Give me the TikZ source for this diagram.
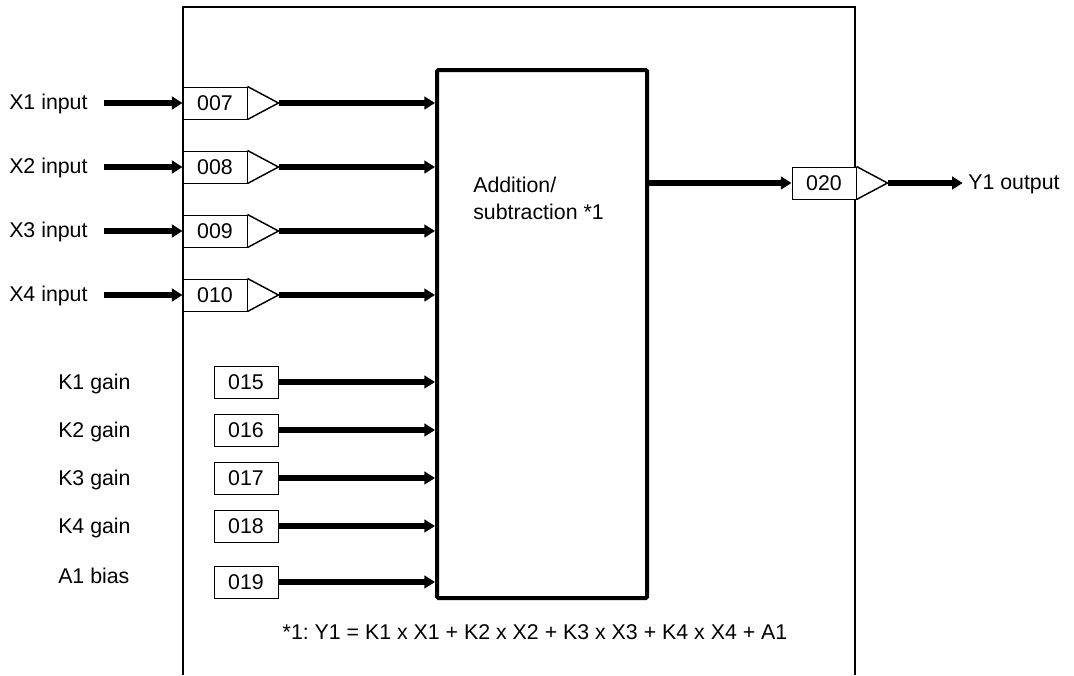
\documentclass[tikz,border=0pt]{standalone}
\usepackage{fontspec}
\setmainfont{Liberation Sans}
\usepackage{tikz}
\usetikzlibrary{arrows.meta, positioning, calc}
\frenchspacing
\tikzset{
  lbl/.style={font=\fontsize{16}{20.25}\selectfont, inner sep=0pt, align=left},
  regbox/.style={
    draw, line width=0.75pt, minimum width=48pt, minimum height=24pt,
    inner sep=0pt, font=\fontsize{16}{20}\selectfont, fill=white
  },
  calcblock/.style={draw, line width=3pt, rounded corners=1pt, inner sep=0pt},
  frameline/.style={line width=1.5pt},
  amp/.style={line width=1.1pt, line join=miter},
  sig/.style={-{Triangle[length=8pt,width=9.5pt]}, line width=4pt},
}
\begin{document}
\begin{tikzpicture}[x=0.75pt, y=-0.75pt]
  \useasboundingbox (0,0) rectangle (1074,675);
  % outer module frame, open at the bottom
  \draw[frameline] (183,675) -- (183,7) -- (855,7) -- (855,675);
  \node[calcblock, minimum width=157.5pt, minimum height=396pt] (blk) at (542,334) {};
  \node[lbl, anchor=west] (optxt) at (473,198) {Addition/\\subtraction *1};
  % inputs
  \node[lbl, anchor=west] (x1) at (9,104) {X1 input};
  \node[lbl, anchor=west] (x2) at (9,168) {X2 input};
  \node[lbl, anchor=west] (x3) at (9,232) {X3 input};
  \node[lbl, anchor=west] (x4) at (9,296) {X4 input};
  \node[regbox] (r007) at (215,103) {007};
  \node[regbox] (r008) at (215,167) {008};
  \node[regbox] (r009) at (215,231) {009};
  \node[regbox] (r010) at (215,295) {010};
  \draw[amp] (r007.north east) -- ++(31,16.5) coordinate (a007) -- (r007.south east);
  \draw[amp] (r008.north east) -- ++(31,16.5) coordinate (a008) -- (r008.south east);
  \draw[amp] (r009.north east) -- ++(31,16.5) coordinate (a009) -- (r009.south east);
  \draw[amp] (r010.north east) -- ++(31,16.5) coordinate (a010) -- (r010.south east);
  \draw[sig] ([xshift=12pt]x1.east |- r007.west) -- (r007.west);
  \draw[sig] ([xshift=12pt]x2.east |- r008.west) -- (r008.west);
  \draw[sig] ([xshift=12pt]x3.east |- r009.west) -- (r009.west);
  \draw[sig] ([xshift=12pt]x4.east |- r010.west) -- (r010.west);
  \draw[sig] (a007) -- (a007 -| blk.west);
  \draw[sig] (a008) -- (a008 -| blk.west);
  \draw[sig] (a009) -- (a009 -| blk.west);
  \draw[sig] (a010) -- (a010 -| blk.west);
  % gains and bias
  \node[lbl, anchor=west] (k1) at (58,384) {K1 gain};
  \node[lbl, anchor=west] (k2) at (58,432) {K2 gain};
  \node[lbl, anchor=west] (k3) at (58,480) {K3 gain};
  \node[lbl, anchor=west] (k4) at (58,528) {K4 gain};
  \node[lbl, anchor=west] (a1) at (58,576) {A1 bias};
  \node[regbox] (r015) at (246,382) {015};
  \node[regbox] (r016) at (246,430) {016};
  \node[regbox] (r017) at (246,478) {017};
  \node[regbox] (r018) at (246,526) {018};
  \node[regbox] (r019) at (246,582) {019};
  \draw[sig] (r015.east) -- (r015.east -| blk.west);
  \draw[sig] (r016.east) -- (r016.east -| blk.west);
  \draw[sig] (r017.east) -- (r017.east -| blk.west);
  \draw[sig] (r018.east) -- (r018.east -| blk.west);
  \draw[sig] (r019.east) -- (r019.east -| blk.west);
  % output
  \node[regbox] (r020) at (824,183) {020};
  \node[lbl, anchor=west] (y1) at (968,184) {Y1 output};
  \draw[amp] (r020.north east) -- ++(31,16.5) coordinate (a020) -- (r020.south east);
  \draw[sig] (r020 -| blk.east) -- (r020.west);
  \draw[sig] (a020) -- ([xshift=-4pt]y1.west |- a020);
  \node[lbl] (eqn) at (535,632) {*1: Y1 = K1 x X1 + K2 x X2 + K3 x X3 + K4 x X4 + A1};
\end{tikzpicture}
\end{document}
